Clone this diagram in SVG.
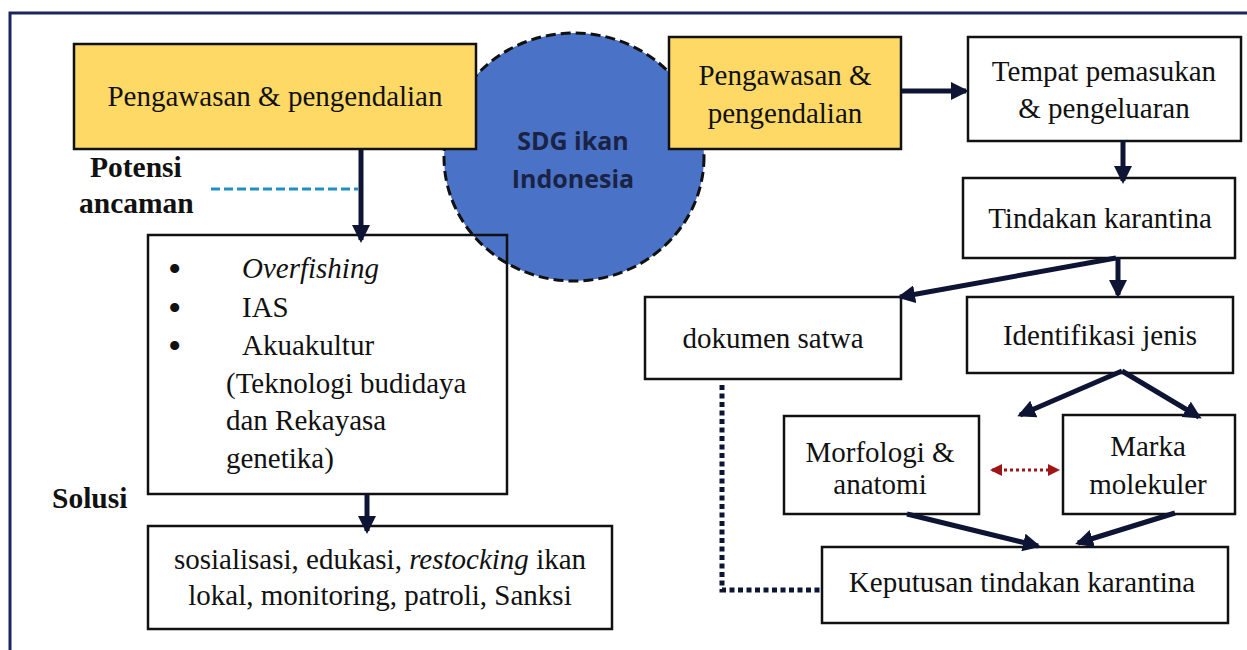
<svg xmlns="http://www.w3.org/2000/svg" width="1247" height="650" viewBox="0 0 1247 650">
<defs>
<style>
.box{fill:#fff;stroke:#111;stroke-width:2.5}
.ybox{fill:#FFD966;stroke:#111;stroke-width:2.5}
.open{fill:none;stroke:#111;stroke-width:2.5}
.t{font-family:"Liberation Serif","Times New Roman",serif;font-size:29px;fill:#111}
.tm{text-anchor:middle}
.b{font-weight:bold;font-size:29.5px}
.i{font-style:italic}
.bul{font-size:38px}
.sdg{font-family:"Open Sans","Liberation Sans",sans-serif;font-weight:bold;font-size:25px;fill:#1b2345;text-anchor:middle}
.arr{stroke:#0e1433;stroke-width:5;fill:none;marker-end:url(#ah)}
</style>
<marker id="ah" viewBox="0 0 18 18" refX="15" refY="9" markerWidth="18" markerHeight="18" markerUnits="userSpaceOnUse" orient="auto"><path d="M0,0 L18,9 L0,18 z" fill="#0e1433"/></marker>
<marker id="rh" viewBox="0 0 12 12" refX="10" refY="6" markerWidth="12" markerHeight="12" markerUnits="userSpaceOnUse" orient="auto-start-reverse"><path d="M0,0 L12,6 L0,12 z" fill="#a01515"/></marker>
</defs>
<rect x="0" y="0" width="1247" height="650" fill="#fff"/>
<path d="M10,650 V13 H1247" fill="none" stroke="#1a2560" stroke-width="3"/>

<g id="sdg">
<ellipse cx="574" cy="157" rx="130" ry="124" fill="#4a72c6" stroke="#111" stroke-width="3" stroke-dasharray="10 5"/>
<text class="sdg" x="573" y="150">SDG ikan</text>
<text class="sdg" x="573" y="188">Indonesia</text>
</g>

<g id="pengawasan-left">
<rect class="ybox" x="74" y="44" width="402" height="105"/>
<text class="t tm" x="275" y="106">Pengawasan &amp; pengendalian</text>
</g>

<g id="label-potensi">
<text class="t b" x="90" y="177">Potensi</text>
<text class="t b" x="79" y="213">ancaman</text>
</g>

<g id="ancaman">
<rect class="open" x="148" y="235" width="359" height="259"/>
<text class="t bul" x="168" y="282">•</text>
<text class="t i" x="242" y="278">Overfishing</text>
<text class="t bul" x="168" y="321">•</text>
<text class="t" x="242" y="317">IAS</text>
<text class="t bul" x="168" y="359">•</text>
<text class="t" x="242" y="355">Akuakultur</text>
<text class="t" x="226" y="393">(Teknologi budidaya</text>
<text class="t" x="226" y="430">dan Rekayasa</text>
<text class="t" x="226" y="468">genetika)</text>
</g>

<g id="label-solusi">
<text class="t b" x="52" y="508">Solusi</text>
</g>

<g id="solusi">
<rect class="box" x="148" y="526" width="464" height="103"/>
<text class="t tm" x="380" y="569">sosialisasi, edukasi, <tspan class="i">restocking</tspan> ikan</text>
<text class="t tm" x="380" y="605">lokal, monitoring, patroli, Sanksi</text>
</g>

<g id="pengawasan-right">
<rect class="ybox" x="669" y="37" width="232" height="112"/>
<text class="t tm" x="785" y="85">Pengawasan &amp;</text>
<text class="t tm" x="785" y="123">pengendalian</text>
</g>

<g id="tempat">
<rect class="box" x="968" y="37" width="273" height="104"/>
<text class="t tm" x="1104" y="81">Tempat pemasukan</text>
<text class="t tm" x="1104" y="118">&amp; pengeluaran</text>
</g>

<g id="tindakan">
<rect class="box" x="963" y="178" width="272" height="80"/>
<text class="t tm" x="1100" y="228">Tindakan karantina</text>
</g>

<g id="dokumen">
<rect class="box" x="645" y="297" width="256" height="82"/>
<text class="t tm" x="773" y="348">dokumen satwa</text>
</g>

<g id="identifikasi">
<rect class="box" x="967" y="297" width="266" height="76"/>
<text class="t tm" x="1100" y="345">Identifikasi jenis</text>
</g>

<g id="morfologi">
<rect class="box" x="784" y="416" width="195" height="98"/>
<text class="t tm" x="880" y="462">Morfologi &amp;</text>
<text class="t tm" x="880" y="494">anatomi</text>
</g>

<g id="marka">
<rect class="box" x="1063" y="415" width="172" height="99"/>
<text class="t tm" x="1148" y="456">Marka</text>
<text class="t tm" x="1148" y="494">molekuler</text>
</g>

<g id="keputusan">
<rect class="box" x="822" y="547" width="406" height="76"/>
<text class="t tm" x="1022" y="592">Keputusan tindakan karantina</text>
</g>

<g id="connectors">
<line class="arr" x1="361" y1="150" x2="361" y2="240"/>
<line x1="211" y1="189" x2="358" y2="189" stroke="#1f8fc4" stroke-width="3" stroke-dasharray="9 4"/>
<line class="arr" x1="367" y1="494" x2="367" y2="531"/>
<line class="arr" x1="901" y1="91" x2="966" y2="91"/>
<line class="arr" x1="1123" y1="141" x2="1123" y2="181"/>
<line class="arr" x1="1118" y1="257" x2="1118" y2="295"/>
<line class="arr" x1="1116" y1="258" x2="900" y2="297"/>
<line class="arr" x1="1122" y1="371" x2="1020" y2="415"/>
<line class="arr" x1="1122" y1="371" x2="1199" y2="417"/>
<line class="arr" x1="907" y1="514" x2="1038" y2="546"/>
<line class="arr" x1="1175" y1="513" x2="1078" y2="543"/>
<line x1="992" y1="470" x2="1058" y2="470" stroke="#a01515" stroke-width="3" stroke-dasharray="3 3" marker-start="url(#rh)" marker-end="url(#rh)"/>
<path d="M722,385 V590 H822" fill="none" stroke="#0e1433" stroke-width="5" stroke-dasharray="5 3.5"/>
</g>
</svg>
